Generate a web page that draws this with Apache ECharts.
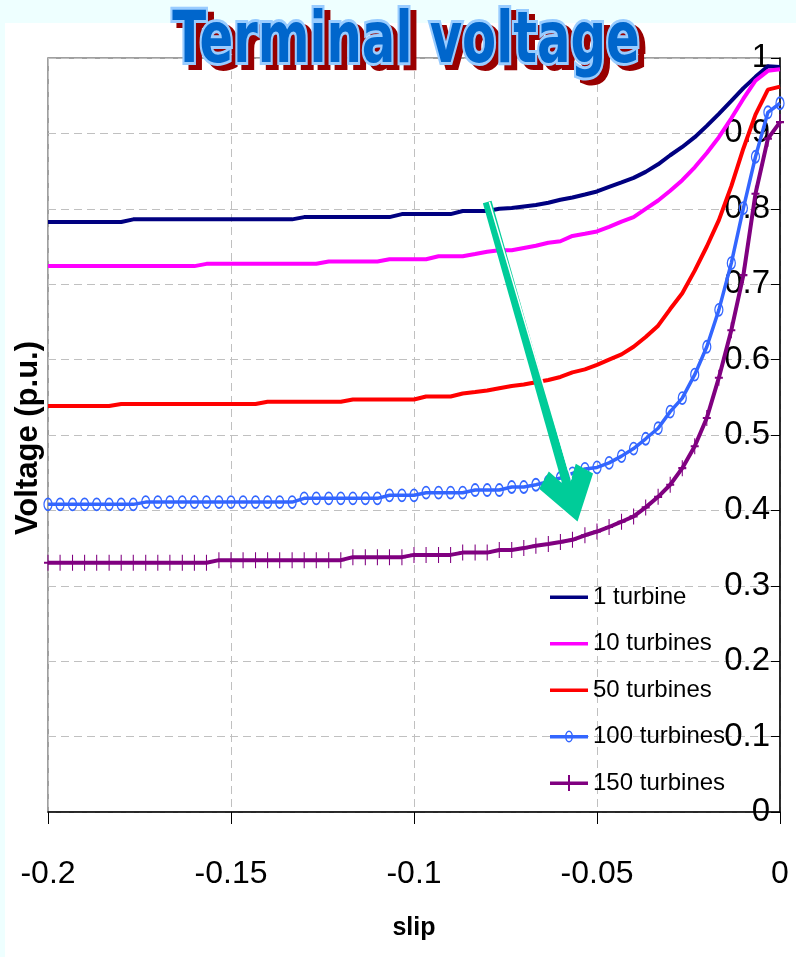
<!DOCTYPE html>
<html><head><meta charset="utf-8">
<script src="https://cdn.jsdelivr.net/npm/echarts@6/dist/echarts.min.js"></script>
<style>html,body{margin:0;padding:0;background:#EEFFFF}#c{width:796px;height:957px}</style>
</head><body><div id="c"></div>
<script>
const slip = [-0.2000,-0.1967,-0.1933,-0.1900,-0.1867,-0.1833,-0.1800,-0.1767,-0.1733,-0.1700,
-0.1667,-0.1633,-0.1600,-0.1567,-0.1533,-0.1500,-0.1467,-0.1433,-0.1400,-0.1367,
-0.1333,-0.1300,-0.1267,-0.1233,-0.1200,-0.1167,-0.1133,-0.1100,-0.1067,-0.1033,
-0.1000,-0.0967,-0.0933,-0.0900,-0.0867,-0.0833,-0.0800,-0.0767,-0.0733,-0.0700,
-0.0667,-0.0633,-0.0600,-0.0567,-0.0533,-0.0500,-0.0467,-0.0433,-0.0400,-0.0367,
-0.0333,-0.0300,-0.0267,-0.0233,-0.0200,-0.0167,-0.0133,-0.0100,-0.0067,-0.0033,0.0000];

const v1 = [0.7825,0.7825,0.7825,0.7825,0.7825,0.7825,0.7825,
0.786,0.786,0.786,0.786,0.786,0.786,0.786,0.786,0.786,0.786,0.786,0.786,0.786,0.786,
0.789,0.789,0.789,0.789,0.789,0.789,0.789,0.789,
0.793,0.793,0.793,0.793,0.793,
0.797,0.797,0.797,
0.800,0.801,0.803,0.805,0.808,0.812,0.815,0.819,0.823,0.829,0.835,0.841,0.849,0.859,0.871,0.882,0.895,0.910,0.926,0.943,0.960,0.975,0.989,0.988];

const v10 = [0.724,0.724,0.724,0.724,0.724,0.724,0.724,0.724,0.724,0.724,0.724,0.724,0.724,
0.727,0.727,0.727,0.727,0.727,0.727,0.727,0.727,0.727,0.727,
0.730,0.730,0.730,0.730,0.730,
0.733,0.733,0.733,0.733,
0.737,0.737,0.737,
0.740,0.743,0.745,0.745,0.748,0.751,0.755,0.757,0.764,0.767,0.770,0.776,0.783,0.789,0.800,0.811,0.824,0.838,0.855,0.874,0.895,0.920,0.946,0.970,0.983,0.985];

const v50 = [0.5385,0.5385,0.5385,0.5385,0.5385,0.5385,
0.541,0.541,0.541,0.541,0.541,0.541,0.541,0.541,0.541,0.541,0.541,0.541,
0.544,0.544,0.544,0.544,0.544,0.544,0.544,
0.547,0.547,0.547,0.547,0.547,0.547,
0.551,0.551,0.551,
0.555,0.557,0.559,0.562,0.565,0.567,0.570,0.573,0.577,0.583,0.587,0.593,0.600,0.607,0.617,0.630,0.645,0.667,0.688,0.718,0.750,0.785,0.830,0.880,0.925,0.958,0.962];

const v100 = [0.408,0.408,0.408,0.408,0.408,0.408,0.408,0.408,
0.411,0.411,0.411,0.411,0.411,0.411,0.411,0.411,0.411,0.411,0.411,0.411,0.411,
0.416,0.416,0.416,0.416,0.416,0.416,0.416,
0.420,0.420,0.420,
0.4235,0.4235,0.4235,0.4235,
0.427,0.427,0.427,
0.431,0.431,
0.434,0.438,0.443,0.449,0.455,0.457,0.463,0.472,0.482,0.495,0.509,0.531,0.549,0.580,0.617,0.666,0.728,0.801,0.869,0.928,0.940];

const v150 = [0.3305,0.3305,0.3305,0.3305,0.3305,0.3305,0.3305,0.3305,0.3305,0.3305,0.3305,0.3305,0.3305,0.3305,
0.334,0.334,0.334,0.334,0.334,0.334,0.334,0.334,0.334,0.334,0.334,
0.338,0.338,0.338,0.338,0.338,
0.341,0.341,0.341,0.341,
0.344,0.344,0.344,
0.3475,0.3475,
0.350,0.353,0.3555,0.358,0.361,0.367,0.372,0.378,0.385,0.392,0.404,0.418,0.434,0.456,0.485,0.5225,0.576,0.639,0.712,0.820,0.893,0.915];

const seriesNames = ['1 turbine','10 turbines','50 turbines','100 turbines','150 turbines'];
const seriesColors = ['#000080','#FF00FF','#FF0000','#3366FF','#800080'];
const arrowFrom = [-0.0800, 0.809];
const arrowTo = [-0.0574, 0.421];

const pair = v => slip.map((x,i)=>[x, v[i]]);
const FONT = "'Liberation Sans',Arial,sans-serif";

const ICON_LINE = 'path://M0,0L0,0Z M0,16L0,16Z M0,6.5L38,6.5L38,10L0,10Z';
const ICON_RING = 'path://M0,0L0,0Z M0,16L0,16Z M0,6.5L38,6.5L38,10L0,10Z M19,2A4,6 0 1,1 19,14A4,6 0 1,1 19,2Z M19,3.5A2.5,4.5 0 1,0 19,12.5A2.5,4.5 0 1,0 19,3.5Z';
const ICON_PLUS = 'path://M0,0L0,0Z M0,16L0,16Z M0,6.5L38,6.5L38,10L0,10Z M18,0L20,0L20,16L18,16Z';

const legendItem = (i, icon) => ({name:seriesNames[i], icon:icon, itemStyle:{color:seriesColors[i], borderWidth:0, borderColor:seriesColors[i]}});

const chart = echarts.init(document.getElementById('c'));
chart.setOption({
  backgroundColor:'#EEFFFF',
  animation:false,
  graphic:[
    {type:'rect', z:-10, silent:true, shape:{x:5,y:23,width:791,height:934}, style:{fill:'#ffffff'}},
    {type:'text', z:100, x:412, y:48, scaleX:0.69, style:{text:'Terminal voltage', font:"bold 72px 'DejaVu Sans'", fill:'#990000', stroke:'#990000', lineWidth:6, align:'center', verticalAlign:'middle'}},
    {type:'text', z:101, x:406, y:43, scaleX:0.69, style:{text:'Terminal voltage', font:"bold 72px 'DejaVu Sans'", fill:'#0066CC', stroke:'#99CCFF', lineWidth:6, strokeFirst:true, align:'center', verticalAlign:'middle'}},
    {type:'text', z:50, x:28, y:438, rotation:Math.PI/2, style:{text:'Voltage (p.u.)', font:"bold 31px " + FONT, fill:'#000', align:'center', verticalAlign:'middle'}}
  ],
  grid:{left:48, right:16, top:58, bottom:145, show:true, borderColor:'#808080', borderWidth:1.5},
  legend:{
    orient:'vertical', left:545, top:577, itemWidth:38, itemHeight:16, itemGap:16.5,
    data:[legendItem(0,ICON_LINE), legendItem(1,ICON_LINE), legendItem(2,ICON_LINE), legendItem(3,ICON_RING), legendItem(4,ICON_PLUS)],
    textStyle:{fontFamily:FONT, fontSize:24, lineHeight:30, color:'#000'}
  },
  xAxis:{
    type:'value', min:-0.2, max:0, interval:0.05,
    name:'slip', nameLocation:'middle', nameGap:104,
    nameTextStyle:{fontFamily:FONT, fontWeight:'bold', fontSize:25, color:'#000'},
    axisLine:{lineStyle:{color:'#000', width:1.5}},
    axisTick:{length:12, lineStyle:{color:'#000', width:1}},
    axisLabel:{margin:46, fontFamily:FONT, fontSize:32, color:'#000'},
    splitLine:{show:true, lineStyle:{color:'#C0C0C0', type:[8,5], width:1}}
  },
  yAxis:{
    type:'value', min:0, max:1, interval:0.1, position:'right',
    axisLine:{show:true, onZero:false, lineStyle:{color:'#000', width:1.5}},
    axisTick:{show:true, inside:true, length:9, lineStyle:{color:'#000', width:1}},
    axisLabel:{inside:true, margin:10, fontFamily:FONT, fontSize:33, color:'#000'},
    splitLine:{show:true, lineStyle:{color:'#C0C0C0', type:[8,5], width:1}}
  },
  series:[
    {name:seriesNames[0], type:'line', data:pair(v1), symbol:'none', color:seriesColors[0], lineStyle:{color:seriesColors[0], width:4}},
    {name:seriesNames[1], type:'line', data:pair(v10), symbol:'none', color:seriesColors[1], lineStyle:{color:seriesColors[1], width:4}},
    {name:seriesNames[2], type:'line', data:pair(v50), symbol:'none', color:seriesColors[2], lineStyle:{color:seriesColors[2], width:4}},
    {name:seriesNames[3], type:'line', data:pair(v100), color:seriesColors[3], symbol:'path://M0,-6A4,6 0 1,1 0,6A4,6 0 1,1 0,-6Z', symbolSize:[8,12], showSymbol:true,
      lineStyle:{color:seriesColors[3], width:3.5}, itemStyle:{color:'rgba(255,255,255,0)', borderColor:seriesColors[3], borderWidth:1.5}},
    {name:seriesNames[4], type:'line', data:pair(v150), color:seriesColors[4], symbol:'path://M0,-8L0,8M-4,0L4,0', symbolSize:[8,16], showSymbol:true,
      lineStyle:{color:seriesColors[4], width:4}, itemStyle:{color:'rgba(255,255,255,0)', borderColor:seriesColors[4], borderWidth:1.5},
      markLine:{silent:true, z:10, label:{show:false}, emphasis:{disabled:true}, symbolKeepAspect:false,
        data:[
          [{coord:arrowFrom, symbol:'none', lineStyle:{color:'#00CC99', width:9, type:'solid'}},
           {coord:arrowTo, symbol:'path://M0,0 L16,21 L8,28 L0,17 L-8,28 L-16,21 Z', symbolSize:[56,56]}],
          [{coord:[arrowFrom[0]+0.0006, arrowFrom[1]], symbol:'none', lineStyle:{color:'#ffffff', width:1.5, type:'solid'}},
           {coord:[arrowTo[0]+0.0004, arrowTo[1]+0.02], symbol:'none'}]
        ]}}
  ]
});
</script></body></html>
